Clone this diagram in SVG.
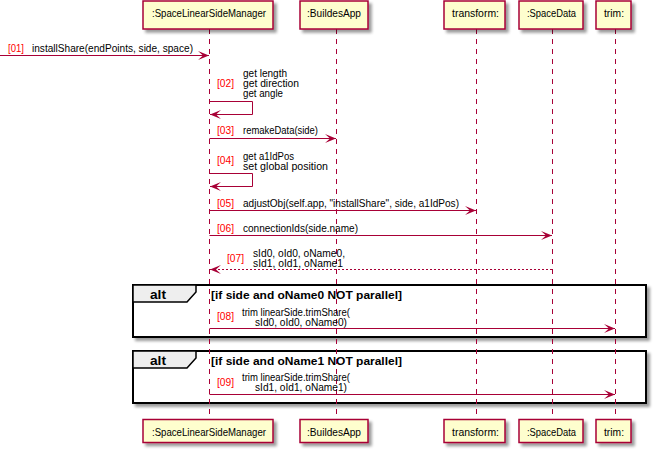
<svg xmlns="http://www.w3.org/2000/svg" width="655" height="450" viewBox="0 0 655 450">
<style>
.box{fill:#FEFECE;stroke:#A80036;stroke-width:1.5}
.pt{font-family:"Liberation Sans",Arial,sans-serif;font-size:10.5px;fill:#000;text-anchor:middle}
.life{stroke:#A80036;stroke-width:1;stroke-dasharray:5,5;fill:none}
.msg{stroke:#A80036;stroke-width:1;fill:none}
.ret{stroke:#A80036;stroke-width:1;fill:none;stroke-dasharray:2,2}
.t{font-family:"Liberation Sans",Arial,sans-serif;font-size:10.5px;fill:#000}
.tm{font-family:"Liberation Sans",Arial,sans-serif;font-size:10px;fill:#000}
.ts{font-family:"Liberation Sans",Arial,sans-serif;font-size:10px;fill:#000}
.n{font-family:"Liberation Sans",Arial,sans-serif;font-size:10.5px;fill:#FF0000}
.ns{font-family:"Liberation Sans",Arial,sans-serif;font-size:10px;fill:#FF0000}
.frame{fill:#FFFFFF;stroke:#000;stroke-width:2}
.tab{fill:#EEEEEE;stroke:#000;stroke-width:1.5}
.ft{font-family:"Liberation Sans",Arial,sans-serif;font-weight:bold;font-size:13px;fill:#000}
.fl{font-family:"Liberation Sans",Arial,sans-serif;font-weight:bold;font-size:11.5px;fill:#000}
</style>
<defs>
<filter id="sh" x="-10%" y="-20%" width="130%" height="160%">
<feGaussianBlur in="SourceAlpha" stdDeviation="1.5"/>
<feOffset dx="3" dy="3" result="o"/>
<feComponentTransfer><feFuncA type="linear" slope="0.4"/></feComponentTransfer>
<feMerge><feMergeNode/><feMergeNode in="SourceGraphic"/></feMerge>
</filter>
<marker id="ah" viewBox="0 0 12 10" markerWidth="12" markerHeight="10" refX="11" refY="5" orient="auto" markerUnits="userSpaceOnUse">
<path d="M0,0.5 L11,5 L0,9.5 L5,5 Z" fill="#A80036"/>
</marker>
</defs>
<rect width="655" height="450" fill="#FFFFFF"/>

<g id="frame1">
<rect class="frame" x="133" y="285" width="513" height="52" filter="url(#sh)"/>
<path class="tab" d="M133,285 H196 V292 L187,302 H133 Z"/>
<text class="ft" x="150" y="299" textLength="16" lengthAdjust="spacingAndGlyphs">alt</text>
<text class="fl" x="211" y="299" textLength="191" lengthAdjust="spacingAndGlyphs">[if side and oName0 NOT parallel]</text>
</g>
<g id="frame2">
<rect class="frame" x="133" y="351" width="513" height="52" filter="url(#sh)"/>
<path class="tab" d="M133,351 H196 V358 L187,368 H133 Z"/>
<text class="ft" x="150" y="365" textLength="16" lengthAdjust="spacingAndGlyphs">alt</text>
<text class="fl" x="211" y="364.5" textLength="191" lengthAdjust="spacingAndGlyphs">[if side and oName1 NOT parallel]</text>
</g>

<g id="lifelines">
<line class="life" x1="209.5" y1="29" x2="209.5" y2="419"/>
<line class="life" x1="336.5" y1="29" x2="336.5" y2="419"/>
<line class="life" x1="476.5" y1="29" x2="476.5" y2="419"/>
<line class="life" x1="552.5" y1="29" x2="552.5" y2="419"/>
<line class="life" x1="615.5" y1="29" x2="615.5" y2="419"/>
</g>

<g id="SpaceLinearSideManager">
<rect class="box" x="143" y="1" width="130" height="28" filter="url(#sh)"/>
<text class="pt" x="209" y="17" textLength="114" lengthAdjust="spacingAndGlyphs">:SpaceLinearSideManager</text>
<rect class="box" x="143" y="419.5" width="130" height="23" filter="url(#sh)"/>
<text class="pt" x="209" y="436" textLength="114" lengthAdjust="spacingAndGlyphs">:SpaceLinearSideManager</text>
</g>
<g id="BuildesApp">
<rect class="box" x="300" y="1" width="68" height="28" filter="url(#sh)"/>
<text class="pt" x="334" y="17" textLength="54" lengthAdjust="spacingAndGlyphs">:BuildesApp</text>
<rect class="box" x="300" y="419.5" width="68" height="23" filter="url(#sh)"/>
<text class="pt" x="334" y="436" textLength="54" lengthAdjust="spacingAndGlyphs">:BuildesApp</text>
</g>
<g id="transform">
<rect class="box" x="444" y="1" width="61" height="28" filter="url(#sh)"/>
<text class="pt" x="475.5" y="17" textLength="47" lengthAdjust="spacingAndGlyphs">transform:</text>
<rect class="box" x="444" y="419.5" width="61" height="23" filter="url(#sh)"/>
<text class="pt" x="475.5" y="436" textLength="47" lengthAdjust="spacingAndGlyphs">transform:</text>
</g>
<g id="SpaceData">
<rect class="box" x="519" y="1" width="64" height="28" filter="url(#sh)"/>
<text class="pt" x="551.5" y="17" textLength="49" lengthAdjust="spacingAndGlyphs">:SpaceData</text>
<rect class="box" x="519" y="419.5" width="64" height="23" filter="url(#sh)"/>
<text class="pt" x="551.5" y="436" textLength="49" lengthAdjust="spacingAndGlyphs">:SpaceData</text>
</g>
<g id="trim">
<rect class="box" x="596" y="1" width="35" height="28" filter="url(#sh)"/>
<text class="pt" x="614" y="17" textLength="20" lengthAdjust="spacingAndGlyphs">trim:</text>
<rect class="box" x="596" y="419.5" width="35" height="23" filter="url(#sh)"/>
<text class="pt" x="614" y="436" textLength="20" lengthAdjust="spacingAndGlyphs">trim:</text>
</g>

<g id="connectors">
<line class="msg" x1="0" y1="55.5" x2="209" y2="55.5" marker-end="url(#ah)"/>
<text class="n" x="8" y="52" textLength="16" lengthAdjust="spacingAndGlyphs">[01]</text>
<text class="t" x="32" y="52" textLength="161" lengthAdjust="spacingAndGlyphs">installShare(endPoints, side, space)</text>

<path class="msg" d="M209.5,101.5 H252.5 V114.5 H210" marker-end="url(#ah)"/>
<text class="n" x="217" y="87" textLength="17" lengthAdjust="spacingAndGlyphs">[02]</text>
<text class="tm" x="243" y="77" textLength="44" lengthAdjust="spacingAndGlyphs">get length</text>
<text class="tm" x="243" y="87" textLength="56" lengthAdjust="spacingAndGlyphs">get direction</text>
<text class="tm" x="243" y="97" textLength="40" lengthAdjust="spacingAndGlyphs">get angle</text>

<line class="msg" x1="209.5" y1="138.5" x2="336" y2="138.5" marker-end="url(#ah)"/>
<text class="n" x="217" y="134" textLength="17" lengthAdjust="spacingAndGlyphs">[03]</text>
<text class="t" x="243" y="134" textLength="75" lengthAdjust="spacingAndGlyphs">remakeData(side)</text>

<path class="msg" d="M209.5,173.5 H252.5 V186.5 H210" marker-end="url(#ah)"/>
<text class="n" x="217" y="164" textLength="17" lengthAdjust="spacingAndGlyphs">[04]</text>
<text class="tm" x="243" y="159.5" textLength="51" lengthAdjust="spacingAndGlyphs">get a1IdPos</text>
<text class="tm" x="243" y="169.5" textLength="85" lengthAdjust="spacingAndGlyphs">set global position</text>

<line class="msg" x1="209.5" y1="210.5" x2="476" y2="210.5" marker-end="url(#ah)"/>
<text class="n" x="217" y="207" textLength="17" lengthAdjust="spacingAndGlyphs">[05]</text>
<text class="t" x="243" y="207" textLength="216" lengthAdjust="spacingAndGlyphs">adjustObj(self.app, "installShare", side, a1IdPos)</text>

<line class="msg" x1="209.5" y1="235.5" x2="552" y2="235.5" marker-end="url(#ah)"/>
<text class="n" x="217" y="232" textLength="17" lengthAdjust="spacingAndGlyphs">[06]</text>
<text class="t" x="243" y="232" textLength="115" lengthAdjust="spacingAndGlyphs">connectionIds(side.name)</text>

<line class="ret" x1="552" y1="269.5" x2="210" y2="269.5" marker-end="url(#ah)"/>
<text class="n" x="227" y="262" textLength="17" lengthAdjust="spacingAndGlyphs">[07]</text>
<text class="tm" x="253" y="256.5" textLength="92" lengthAdjust="spacingAndGlyphs">sId0, oId0, oName0,</text>
<text class="tm" x="253" y="266.5" textLength="90" lengthAdjust="spacingAndGlyphs">sId1, oId1, oName1</text>

<line class="msg" x1="209.5" y1="328.5" x2="615" y2="328.5" marker-end="url(#ah)"/>
<text class="ns" x="217" y="320" textLength="17" lengthAdjust="spacingAndGlyphs">[08]</text>
<text class="ts" x="242" y="316" textLength="108" lengthAdjust="spacingAndGlyphs">trim linearSide.trimShare(</text>
<text class="ts" x="255" y="326" textLength="92" lengthAdjust="spacingAndGlyphs">sId0, oId0, oName0)</text>

<line class="msg" x1="209.5" y1="394.5" x2="615" y2="394.5" marker-end="url(#ah)"/>
<text class="ns" x="217" y="386" textLength="17" lengthAdjust="spacingAndGlyphs">[09]</text>
<text class="ts" x="242" y="380.5" textLength="108" lengthAdjust="spacingAndGlyphs">trim linearSide.trimShare(</text>
<text class="ts" x="255" y="390.5" textLength="92" lengthAdjust="spacingAndGlyphs">sId1, oId1, oName1)</text>
</g>
</svg>
